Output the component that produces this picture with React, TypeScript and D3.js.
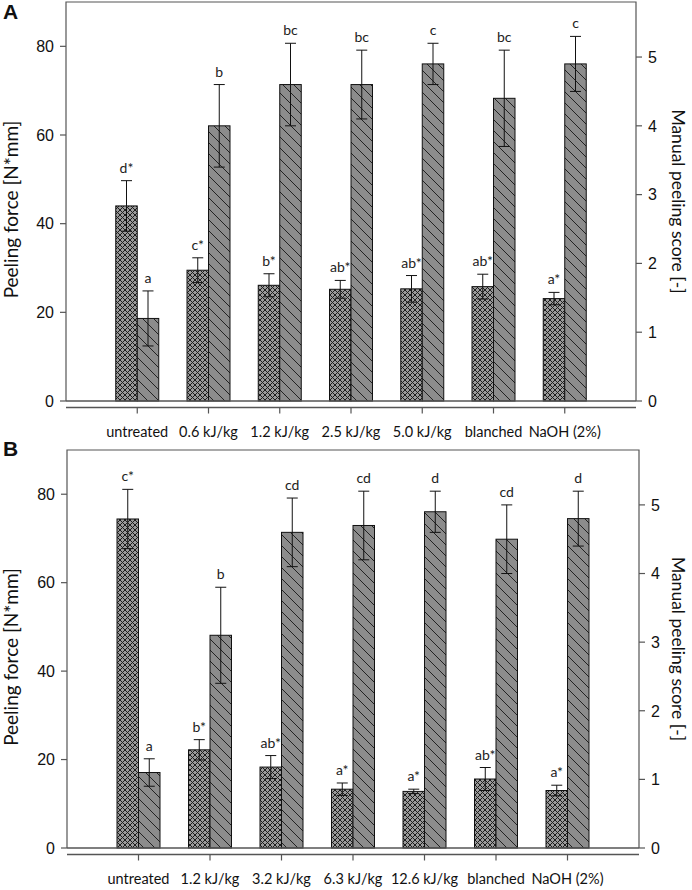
import React from 'react';
import * as d3 from 'd3';

// ---------- data ----------
const categoriesA = ['untreated', '0.6 kJ/kg', '1.2 kJ/kg', '2.5 kJ/kg', '5.0 kJ/kg', 'blanched', 'NaOH (2%)'];
const forceA = [44.0, 29.5, 26.1, 25.2, 25.3, 25.8, 23.1];
const forceErrA = [5.7, 2.8, 2.6, 2.0, 3.0, 2.8, 1.4];
const scoreA = [1.2, 4.0, 4.6, 4.6, 4.9, 4.4, 4.9];
const scoreErrA = [0.4, 0.6, 0.6, 0.5, 0.3, 0.7, 0.4];
const lettersForceA = ['d*', 'c*', 'b*', 'ab*', 'ab*', 'ab*', 'a*'];
const lettersScoreA = ['a', 'b', 'bc', 'bc', 'c', 'bc', 'c'];

const categoriesB = ['untreated', '1.2 kJ/kg', '3.2 kJ/kg', '6.3 kJ/kg', '12.6 kJ/kg', 'blanched', 'NaOH (2%)'];
const forceB = [74.4, 22.2, 18.3, 13.3, 12.8, 15.6, 13.0];
const forceErrB = [6.7, 2.3, 2.6, 1.4, 0.5, 2.6, 1.2];
const scoreB = [1.1, 3.1, 4.6, 4.7, 4.9, 4.5, 4.8];
const scoreErrB = [0.2, 0.7, 0.5, 0.5, 0.3, 0.5, 0.4];
const lettersForceB = ['c*', 'b*', 'ab*', 'a*', 'a*', 'ab*', 'a*'];
const lettersScoreB = ['a', 'b', 'cd', 'cd', 'd', 'cd', 'd'];

const leftTicks = [0, 20, 40, 60, 80];
const rightTicks = [0, 1, 2, 3, 4, 5];
const leftDomain = [0, 90];
const rightDomain = [0, 5.8];
const leftTitle = 'Peeling force [N*mm]';
const rightTitle = 'Manual peeling score [-]';

// ---------- layout ----------
const W = 692;
const H = 890;
const panels = [
  { label: 'A', cats: categoriesA, force: forceA, forceErr: forceErrA, score: scoreA, scoreErr: scoreErrA, lf: lettersForceA, ls: lettersScoreA, left: 66, right: 636, top: 2, bottom: 401, labelY: 19 },
  { label: 'B', cats: categoriesB, force: forceB, forceErr: forceErrB, score: scoreB, scoreErr: scoreErrB, lf: lettersForceB, ls: lettersScoreB, left: 67, right: 639, top: 450, bottom: 848, labelY: 456 },
];
const BAR_W = 21.5;
const CAP = 5.5;
const FRAME = '#555';
const SANS = 'Lato, "Open Sans", sans-serif';
const ARIAL = '"Liberation Sans", Arial, sans-serif';

function ErrorBar({ x, y0, y1 }: { x: number; y0: number; y1: number }) {
  return (
    <g stroke="#111" strokeWidth={1}>
      <line x1={x} x2={x} y1={y0} y2={y1} />
      <line x1={x - CAP} x2={x + CAP} y1={y0} y2={y0} />
      <line x1={x - CAP} x2={x + CAP} y1={y1} y2={y1} />
    </g>
  );
}

function Panel({ p }: { p: typeof panels[number] }) {
  const x = d3.scaleLinear().domain([0, 8]).range([p.left, p.right]);
  const yL = d3.scaleLinear().domain(leftDomain).range([p.bottom, p.top]);
  const yR = d3.scaleLinear().domain(rightDomain).range([p.bottom, p.top]);
  const axisY = p.bottom + 6.5;
  const midY = (p.top + p.bottom) / 2;
  return (
    <g>
      <text x={3} y={p.labelY} fontFamily={ARIAL} fontWeight="bold" fontSize={21} fill="#111">{p.label}</text>
      {p.cats.map((c, i) => {
        const cx = x(i + 1);
        const fTop = yL(p.force[i]);
        const sTop = yR(p.score[i]);
        const fx = cx - BAR_W / 2;
        const sx = cx + BAR_W / 2;
        const fUp = yL(p.force[i] + p.forceErr[i]);
        const fDn = yL(p.force[i] - p.forceErr[i]);
        const sUp = yR(p.score[i] + p.scoreErr[i]);
        const sDn = yR(p.score[i] - p.scoreErr[i]);
        return (
          <g key={c}>
            <rect x={cx - BAR_W} y={fTop} width={BAR_W} height={p.bottom - fTop} fill="url(#xh)" stroke="#111" strokeWidth={1} />
            <rect x={cx} y={sTop} width={BAR_W} height={p.bottom - sTop} fill="url(#dh)" stroke="#111" strokeWidth={1} />
            <ErrorBar x={fx} y0={fUp} y1={fDn} />
            <ErrorBar x={sx} y0={sUp} y1={sDn} />
            <text x={fx} y={fUp - 8} textAnchor="middle" fontFamily={SANS} fontSize={14} fill="#222">{p.lf[i]}</text>
            <text x={sx} y={sUp - 8} textAnchor="middle" fontFamily={SANS} fontSize={14} fill="#222">{p.ls[i]}</text>
            <line x1={cx} x2={cx} y1={axisY} y2={axisY + 6} stroke={FRAME} strokeWidth={1.2} />
            <text x={cx} y={axisY + 29} textAnchor="middle" fontFamily={SANS} fontSize={14.5} fill="#111">{c}</text>
          </g>
        );
      })}
      <path d={`M${p.left},${p.bottom}V${p.top}H${p.right}V${p.bottom}`} fill="none" stroke={FRAME} strokeWidth={1.2} />
      <line x1={p.left} x2={p.right} y1={p.bottom} y2={p.bottom} stroke={FRAME} strokeWidth={1.4} />
      <line x1={p.left} x2={p.right} y1={axisY} y2={axisY} stroke={FRAME} strokeWidth={1.4} />
      {leftTicks.map((t) => (
        <g key={'l' + t}>
          <line x1={p.left - 6} x2={p.left} y1={yL(t)} y2={yL(t)} stroke={FRAME} strokeWidth={1.2} />
          <text x={p.left - 12} y={yL(t)} dy="0.36em" textAnchor="end" fontFamily={ARIAL} fontSize={16} fill="#111">{t}</text>
        </g>
      ))}
      {rightTicks.map((t) => (
        <g key={'r' + t}>
          <line x1={p.right} x2={p.right + 6} y1={yR(t)} y2={yR(t)} stroke={FRAME} strokeWidth={1.2} />
          <text x={p.right + 12} y={yR(t)} dy="0.36em" textAnchor="start" fontFamily={ARIAL} fontSize={16} fill="#111">{t}</text>
        </g>
      ))}
      <text transform={`translate(18,${midY + 8}) rotate(-90)`} textAnchor="middle" fontFamily={SANS} fontSize={19} fill="#111">{leftTitle}</text>
      <text transform={`translate(672,${midY}) rotate(90)`} textAnchor="middle" fontFamily={SANS} fontSize={17.5} fill="#111">{rightTitle}</text>
    </g>
  );
}

export default function App() {
  return (
    <svg width={W} height={H} viewBox={`0 0 ${W} ${H}`} style={{ position: 'absolute', left: 0, top: 0, background: '#fff' }}>
      <defs>
        <pattern id="xh" patternUnits="userSpaceOnUse" width={5} height={5}>
          <rect width={5} height={5} fill="#9a9a9a" />
          <path d="M0,0L5,5M5,0L0,5" stroke="#1e1e1e" strokeWidth={1} />
        </pattern>
        <pattern id="dh" patternUnits="userSpaceOnUse" width={11} height={11}>
          <rect width={11} height={11} fill="#8c8c8c" />
          <path d="M0,0L11,11M-1,10L1,12M10,-1L12,1" stroke="#222" strokeWidth={1} />
        </pattern>
      </defs>
      <rect width={W} height={H} fill="#fff" />
      {panels.map((p) => (
        <Panel key={p.label} p={p} />
      ))}
    </svg>
  );
}
